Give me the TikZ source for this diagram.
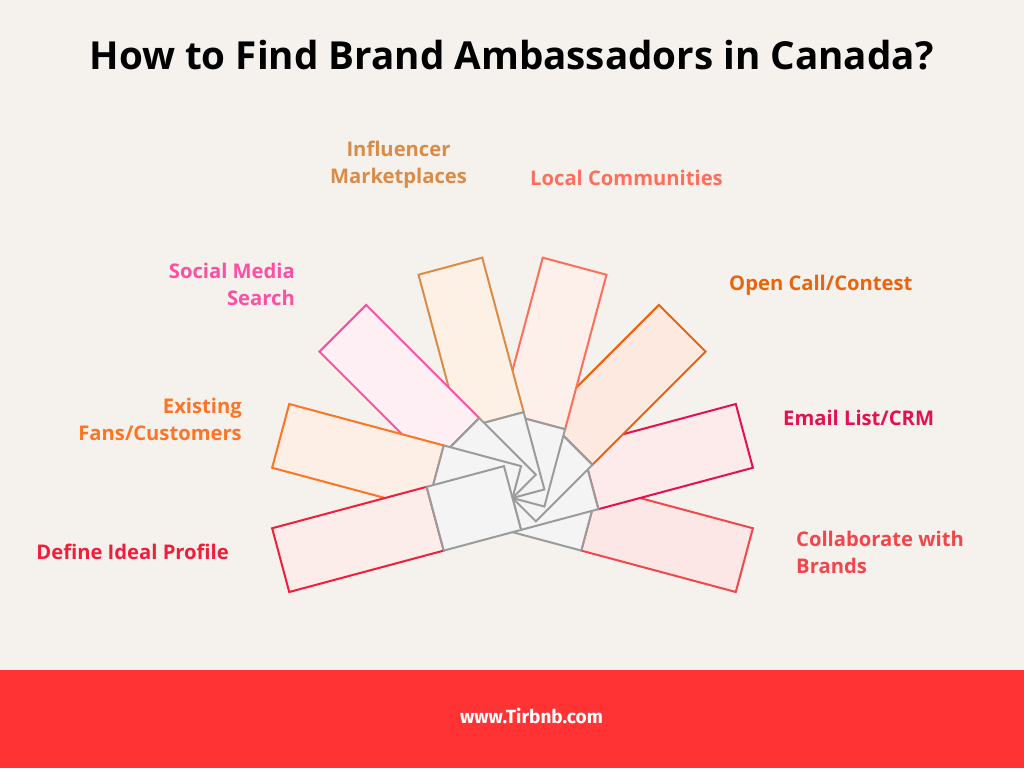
\documentclass[tikz,border=0pt]{standalone}
\usepackage{fontspec}
\setmainfont{Open Sans}
\newfontfamily\labelfont{Open Sans}
\newfontfamily\webfont{Fira Sans}

% colours of the eight arms (line / fill)
\definecolor{bgcol}{HTML}{F5F2EE}
\definecolor{footcol}{HTML}{FF3333}
\definecolor{hubline}{HTML}{9B9B9B}
\definecolor{hubfill}{HTML}{F4F4F4}
\definecolor{profline}{HTML}{F21D3B}  \definecolor{proffill}{HTML}{FDEDEA}
\definecolor{fansline}{HTML}{FF7422}  \definecolor{fansfill}{HTML}{FDEEE6}
\definecolor{socline}{HTML}{FF4FA0}   \definecolor{socfill}{HTML}{FDEFF3}
\definecolor{inflline}{HTML}{DC8B47}  \definecolor{inflfill}{HTML}{FDF0E5}
\definecolor{locline}{HTML}{FF6E5A}   \definecolor{locfill}{HTML}{FDEFEA}
\definecolor{openline}{HTML}{E8640F}  \definecolor{openfill}{HTML}{FDE9DF}
\definecolor{mailline}{HTML}{E5104E}  \definecolor{mailfill}{HTML}{FDEAEA}
\definecolor{collline}{HTML}{F2464A}  \definecolor{collfill}{HTML}{FDE7E6}

\tikzset{
  arm/.style={line width=2pt, line join=miter},
  hub/.style={line width=2pt, draw=hubline, fill=hubfill},
  lbl/.style={font=\labelfont\bfseries\fontsize{20.2}{27}\selectfont, inner sep=0pt},
}

\begin{document}
\begin{tikzpicture}[x=1pt, y=-1pt]
  % background and frame
  \fill[bgcol] (0,0) rectangle (1024,768);
  \useasboundingbox (0,0) rectangle (1024,768);

  % title
  \node[font=\bfseries\fontsize{38.6}{44}\selectfont] (title) at (511.5,55) {How to Find Brand Ambassadors in Canada?};

  % fan of arms, last drawn lies on top
  \coordinate (ctr) at (512.5,498);
  \foreach \ang/\nm in {-15/coll, 15/mail, 45/open, 75/loc, 105/infl, 135/soc, 165/fans, 195/prof} {
    \begin{scope}[shift={(ctr)}, rotate=\ang]
      \draw[arm, draw=\nm line, fill=\nm fill] (80,-33) rectangle (240,33);
      \draw[hub] (0,-33) rectangle (80,33);
    \end{scope}
  }

  % labels
  \node[lbl, text=inflline, align=center] (infl) at (398.5,165) {Influencer\\Marketplaces};
  \node[lbl, text=locline, anchor=west] (loc) at (530,178) {Local Communities};
  \node[lbl, text=socline, align=right, anchor=east] (soc) at (295,284.5) {Social Media\\Search};
  \node[lbl, text=openline, anchor=west] (open) at (729,285) {Open Call/Contest};
  \node[lbl, text=fansline, align=right, anchor=east] (fans) at (242,419) {Existing\\Fans/Customers};
  \node[lbl, text=mailline, anchor=west] (mail) at (783,418) {Email List/CRM};
  \node[lbl, text=profline, anchor=east] (prof) at (229,552) {Define Ideal Profile};
  \node[lbl, text=collline, align=left, anchor=west] (coll) at (796,552.5) {Collaborate with\\Brands};

  % footer band
  \fill[footcol] (0,670) rectangle (1024,768);
  \node[font=\webfont\bfseries\fontsize{19}{22}\selectfont, text=white] (web) at (531.5,716) {www.Tirbnb.com};
\end{tikzpicture}
\end{document}
